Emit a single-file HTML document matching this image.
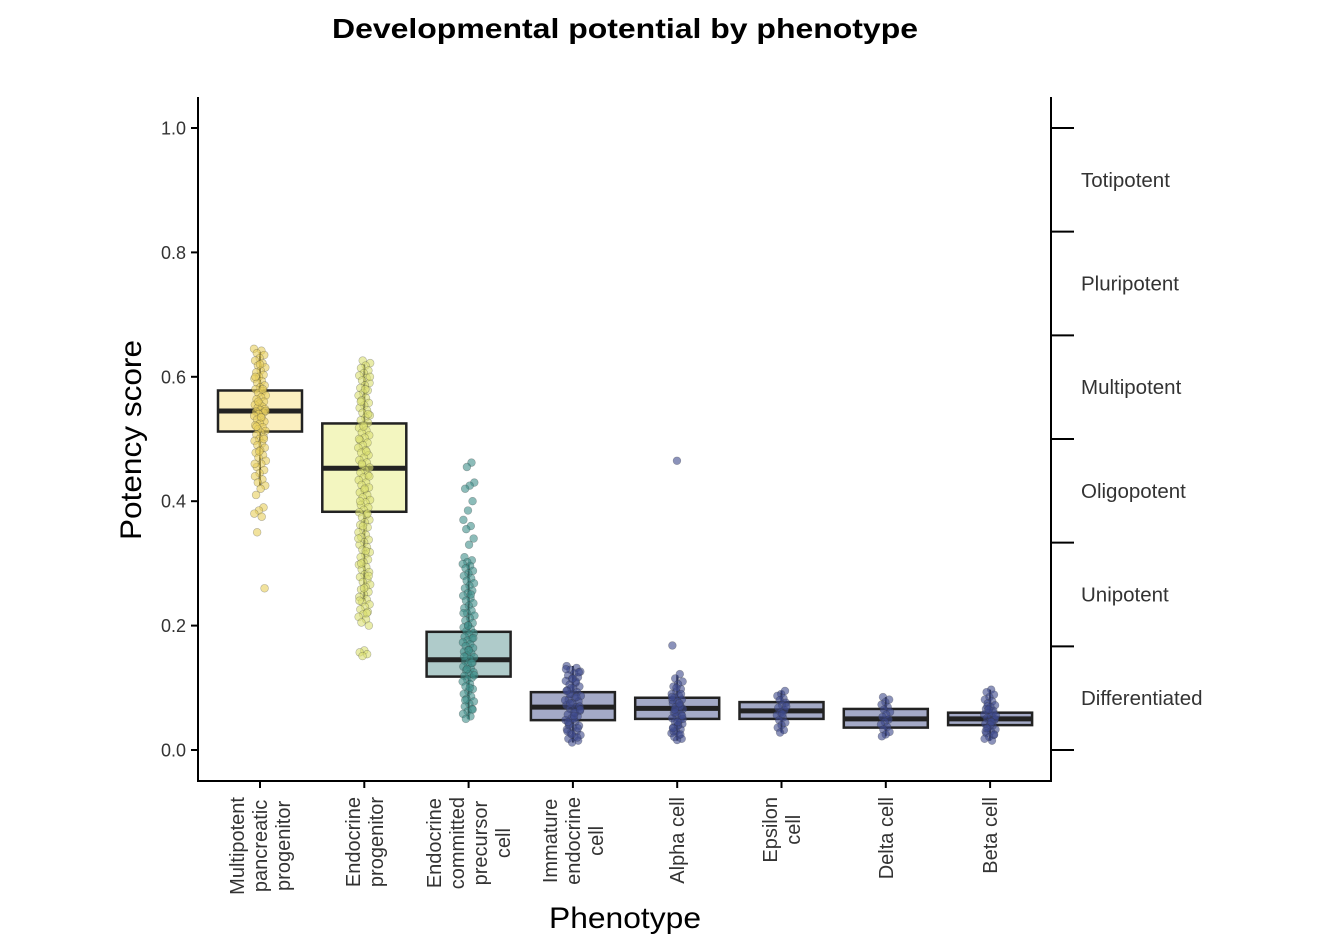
<!DOCTYPE html>
<html><head><meta charset="utf-8"><style>
html,body{margin:0;padding:0;background:#fff;}
svg{display:block;font-family:"Liberation Sans",Arial,sans-serif;}
</style></head><body>
<svg id="chart" width="1326" height="950" viewBox="0 0 1326 950">
<text x="625" y="38" text-anchor="middle" font-size="28" font-weight="bold" fill="#000" textLength="586" lengthAdjust="spacingAndGlyphs">Developmental potential by phenotype</text>
<g id="plot"></g>
<text transform="translate(141,440) rotate(-90)" text-anchor="middle" font-size="30" fill="#000" textLength="200" lengthAdjust="spacingAndGlyphs">Potency score</text>
<text x="625" y="928" text-anchor="middle" font-size="30" fill="#000" textLength="152" lengthAdjust="spacingAndGlyphs">Phenotype</text>
</svg>
<script>
const categories = [["Multipotent","pancreatic","progenitor"],["Endocrine","progenitor"],["Endocrine","committed","precursor","cell"],["Immature","endocrine","cell"],["Alpha cell"],["Epsilon","cell"],["Delta cell"],["Beta cell"]];
const q1 = [0.512,0.383,0.118,0.048,0.050,0.050,0.036,0.040];
const medians = [0.545,0.453,0.145,0.069,0.067,0.063,0.050,0.050];
const q3 = [0.578,0.525,0.190,0.093,0.084,0.077,0.066,0.060];
const whiskerLow = [0.425,0.24,0.05,0.012,0.015,0.028,0.022,0.015];
const whiskerHigh = [0.64,0.62,0.30,0.135,0.12,0.095,0.085,0.097];
const boxFill = ["#fbefc0","#f3f6c0","#afcbca","#a4aac7","#a4aac7","#a4aac7","#a4aac7","#a4aac7"];
const pointFill = ["#e8cf5c","#dbe070","#3f8f8a","#3e4a8c","#3e4a8c","#3e4a8c","#3e4a8c","#3e4a8c"];
const yTicks = [0,0.2,0.4,0.6,0.8,1.0];
const yTickLabels = ["0.0","0.2","0.4","0.6","0.8","1.0"];
const rightTicks = [0,1/6,2/6,3/6,4/6,5/6,1];
const rightLabels = ["Differentiated","Unipotent","Oligopotent","Multipotent","Pluripotent","Totipotent"];
const pts0 = [0.645,0.642,0.638,0.635,0.63,0.626,0.622,0.618,0.615,0.61,0.607,0.603,0.6,0.597,0.593,0.59,0.586,0.583,0.58,0.577,0.574,0.57,0.567,0.564,0.56,0.557,0.555,0.552,0.55,0.548,0.546,0.544,0.542,0.54,0.537,0.534,0.531,0.528,0.525,0.522,0.519,0.516,0.513,0.51,0.507,0.503,0.5,0.497,0.493,0.49,0.486,0.482,0.478,0.474,0.47,0.465,0.46,0.455,0.45,0.445,0.44,0.435,0.43,0.425,0.42,0.41,0.39,0.385,0.38,0.375,0.35,0.26,0.62,0.6,0.58,0.56,0.545,0.535,0.52,0.5,0.48,0.46];
const pts1 = [0.626,0.622,0.618,0.614,0.61,0.606,0.602,0.598,0.594,0.59,0.586,0.582,0.578,0.574,0.57,0.566,0.562,0.558,0.554,0.55,0.546,0.542,0.538,0.534,0.53,0.526,0.522,0.518,0.514,0.51,0.506,0.502,0.498,0.494,0.49,0.486,0.482,0.478,0.474,0.47,0.466,0.462,0.458,0.454,0.45,0.446,0.442,0.438,0.434,0.43,0.426,0.422,0.418,0.414,0.41,0.406,0.402,0.398,0.394,0.39,0.386,0.382,0.378,0.374,0.37,0.366,0.362,0.358,0.354,0.35,0.346,0.342,0.338,0.334,0.33,0.326,0.322,0.318,0.314,0.31,0.306,0.302,0.298,0.294,0.29,0.286,0.282,0.278,0.274,0.27,0.266,0.262,0.258,0.254,0.25,0.246,0.242,0.238,0.234,0.23,0.226,0.222,0.218,0.214,0.21,0.205,0.2,0.16,0.157,0.154,0.151,0.6,0.58,0.56,0.54,0.52,0.5,0.48,0.46,0.44,0.42,0.4,0.38,0.36,0.34,0.32,0.3,0.28,0.26,0.24,0.22];
const pts2 = [0.462,0.455,0.43,0.425,0.42,0.4,0.385,0.37,0.36,0.355,0.34,0.33,0.31,0.305,0.302,0.299,0.296,0.292,0.288,0.284,0.28,0.276,0.272,0.268,0.264,0.26,0.256,0.252,0.248,0.244,0.24,0.236,0.232,0.228,0.224,0.22,0.216,0.212,0.208,0.204,0.2,0.197,0.194,0.191,0.188,0.185,0.182,0.179,0.176,0.173,0.17,0.167,0.164,0.161,0.158,0.155,0.152,0.149,0.146,0.143,0.14,0.137,0.134,0.131,0.128,0.125,0.122,0.119,0.116,0.113,0.11,0.106,0.102,0.098,0.094,0.09,0.086,0.082,0.078,0.074,0.07,0.066,0.062,0.058,0.054,0.05,0.18,0.16,0.15,0.14,0.13,0.12,0.1,0.08,0.065,0.2,0.22,0.25];
const pts3 = [0.135,0.132,0.129,0.126,0.123,0.12,0.117,0.114,0.111,0.108,0.105,0.102,0.099,0.096,0.093,0.09,0.087,0.084,0.081,0.078,0.075,0.072,0.069,0.066,0.063,0.06,0.057,0.054,0.051,0.048,0.045,0.042,0.039,0.036,0.033,0.03,0.027,0.024,0.021,0.018,0.015,0.012,0.13,0.11,0.09,0.07,0.05,0.03,0.02,0.1,0.08,0.06,0.04,0.125,0.115,0.095,0.085,0.075,0.065,0.055,0.045,0.035,0.025];
const pts4 = [0.465,0.168,0.122,0.115,0.11,0.106,0.102,0.098,0.094,0.09,0.087,0.084,0.081,0.078,0.075,0.072,0.069,0.066,0.063,0.06,0.057,0.054,0.051,0.048,0.045,0.042,0.039,0.036,0.033,0.03,0.027,0.024,0.021,0.018,0.016,0.08,0.07,0.06,0.05,0.04,0.03,0.09,0.1,0.085,0.075,0.065,0.055,0.045,0.035,0.025];
const pts5 = [0.095,0.09,0.087,0.083,0.08,0.076,0.072,0.068,0.064,0.06,0.056,0.052,0.048,0.044,0.04,0.036,0.032,0.028,0.07,0.058];
const pts6 = [0.085,0.081,0.077,0.073,0.069,0.065,0.061,0.057,0.053,0.049,0.045,0.041,0.037,0.033,0.029,0.025,0.022];
const pts7 = [0.097,0.093,0.089,0.085,0.081,0.078,0.075,0.072,0.069,0.066,0.063,0.06,0.057,0.054,0.051,0.048,0.045,0.042,0.039,0.036,0.033,0.03,0.027,0.024,0.021,0.018,0.015,0.07,0.05,0.04,0.03,0.06,0.065,0.055,0.045,0.035,0.025];
const points = [pts0,pts1,pts2,pts3,pts4,pts5,pts6,pts7];

const NS = "http://www.w3.org/2000/svg";
const plot = document.getElementById("plot");
const L = 198, R = 1051, T = 97, B = 781;
const xScale = i => 260 + i * 104.3;
const yScale = v => 750 - v * 622;
const jw = [6,6,6,8,6,5,5,6];
function mk(tag, attrs, parent) {
  const e = document.createElementNS(NS, tag);
  for (const k in attrs) e.setAttribute(k, attrs[k]);
  (parent || plot).appendChild(e);
  return e;
}
let a = mk("line", {x1:L,y1:T,x2:L,y2:B,stroke:"#000","stroke-width":2});


a = mk("line", {x1:L-1,y1:B,x2:R+1,y2:B,stroke:"#000","stroke-width":2});


a = mk("line", {x1:R,y1:T,x2:R,y2:B,stroke:"#000","stroke-width":2});


yTicks.forEach((v, i) => {
  const y = yScale(v);
  const t = mk("line", {x1:L-7,y1:y,x2:L,y2:y,stroke:"#000","stroke-width":2});
  
  
  const tx = mk("text", {x:L-12,y:y+6.5,"text-anchor":"end","font-size":18,fill:"#333"});
  tx.textContent = yTickLabels[i];
  
  
});
rightTicks.forEach(v => {
  const y = yScale(v);
  const t = mk("line", {x1:R,y1:y,x2:R+23,y2:y,stroke:"#000","stroke-width":2});
  
  
});
rightLabels.forEach((s, i) => {
  const y = yScale((rightTicks[i] + rightTicks[i+1]) / 2);
  const tx = mk("text", {x:1081,y:y+7,"font-size":20.5,fill:"#333"});
  tx.textContent = s;
  
  
});
categories.forEach((c, i) => {
  const cx = xScale(i);
  const g = mk("g", {});
  
  
  const w1 = mk("line", {x1:cx,y1:yScale(whiskerLow[i]),x2:cx,y2:yScale(q1[i]),stroke:"#222","stroke-width":2}, g);
  
  
  const w2 = mk("line", {x1:cx,y1:yScale(q3[i]),x2:cx,y2:yScale(whiskerHigh[i]),stroke:"#222","stroke-width":2}, g);
  
  
  const r = mk("rect", {x:cx-42,y:yScale(q3[i]),width:84,height:yScale(q1[i])-yScale(q3[i]),fill:boxFill[i],stroke:"#222","stroke-width":2.5}, g);
  
  
  const m = mk("line", {x1:cx-42,y1:yScale(medians[i]),x2:cx+42,y2:yScale(medians[i]),stroke:"#222","stroke-width":5}, g);
  
  
  points[i].forEach((v, k) => {
    const f = ((k * 0.61803 + i * 0.37) % 1);
    const off = (f * 2 - 1) * jw[i];
    const p = mk("circle", {cx:cx+off,cy:yScale(v),r:3.9,fill:pointFill[i],"fill-opacity":0.6,stroke:"#333","stroke-opacity":0.35,"stroke-width":0.6}, g);
    
    
  });
  const t = mk("line", {x1:cx,y1:B,x2:cx,y2:B+7,stroke:"#000","stroke-width":2});
  
  
  const n = c.length, lh = 23;
  const tx = mk("text", {"font-size":20,fill:"#333","text-anchor":"middle"});
  
  
  const spans = c.map((s, k) => {
    const ts = mk("tspan", {x:0,y:(k - (n-1)/2) * lh + 7}, tx);
    ts.textContent = s;
    return ts;
  });
  let maxLen = 0;
  spans.forEach(s => { maxLen = Math.max(maxLen, s.getComputedTextLength()); });
  tx.setAttribute("transform", "translate(" + cx + "," + (797 + maxLen/2) + ") rotate(-90)");
});
</script>
</body></html>
